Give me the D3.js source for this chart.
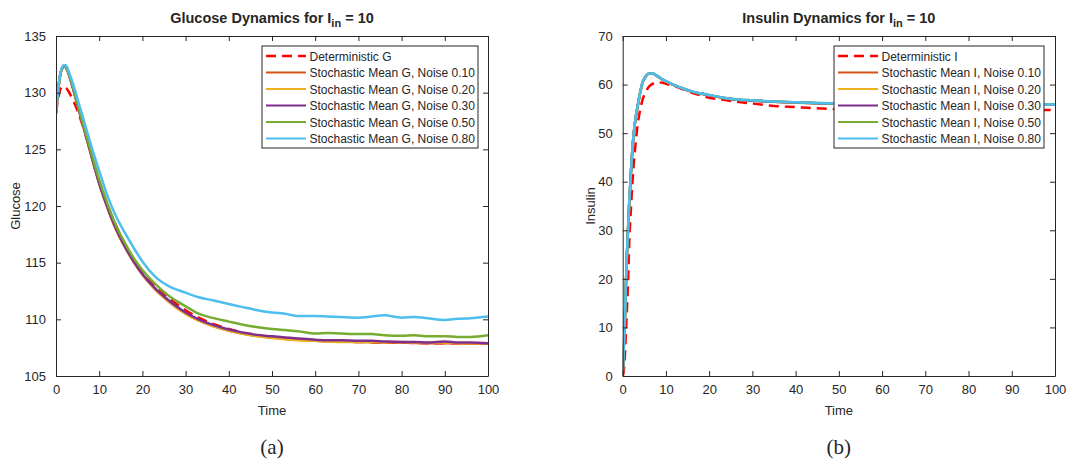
<!DOCTYPE html>
<html>
<head>
<meta charset="utf-8">
<script src="https://cdn.jsdelivr.net/npm/d3@7"></script>
<style>
body { margin: 0; background: #fff; }
svg { display: block; }
text { font-family: "Liberation Sans", Arial, Helvetica, sans-serif; fill: #262626; }
</style>
</head>
<body>
<script>
// glucose time grid + series
var tGlu = [0,0.5,1,1.5,2,2.5,3,4,5,6,7,8,10,12,14,16,18,20,23,26,30,33,36,40,43,46,50,53,56,60,63,66,70,73,76,80,83,86,90,93,96,100];
var gDet = [128.2,129.5,130.3,130.55,130.5,130.35,130.05,129.3,128.4,127.3,126.1,124.8,122.2,120.0,118.2,116.6,115.3,114.2,112.9,111.9,110.8,110.15,109.65,109.15,108.85,108.65,108.45,108.35,108.25,108.15,108.1,108.05,108.0,107.98,107.95,107.93,107.92,107.9,107.9,107.9,107.9,107.9];
var gN10 = [128.2,130.2,131.6,132.2,132.35,132.1,131.6,130.3,128.9,127.5,126.1,124.7,122.0,119.75,117.85,116.35,115.05,113.95,112.65,111.6,110.5,109.9,109.45,109.0,108.75,108.55,108.4,108.3,108.2,108.1,108.05,108.05,108.0,107.98,107.95,107.95,107.92,107.9,107.9,107.88,107.86,107.85];
var gN20 = [128.2,130.2,131.6,132.2,132.35,132.1,131.6,130.3,128.9,127.5,126.1,124.7,122.0,119.75,117.85,116.35,115.05,113.95,112.6,111.6,110.5,109.9,109.45,109.0,108.75,108.55,108.35,108.25,108.15,108.1,108.05,108.0,108.0,108.0,107.98,108.0,107.95,107.95,107.95,107.92,107.9,107.9];
var gN30 = [128.2,130.2,131.6,132.2,132.35,132.1,131.6,130.3,128.9,127.5,126.1,124.7,122.0,119.8,117.9,116.4,115.1,114.0,112.7,111.7,110.6,110.0,109.55,109.1,108.85,108.65,108.5,108.4,108.3,108.2,108.15,108.15,108.1,108.1,108.05,108.0,108.0,107.95,108.05,107.95,107.95,107.9];
var gN50 = [128.2,130.2,131.6,132.25,132.4,132.15,131.65,130.4,129.0,127.6,126.25,124.9,122.3,120.1,118.2,116.7,115.4,114.35,113.1,112.1,111.15,110.5,110.15,109.8,109.55,109.35,109.15,109.05,108.95,108.75,108.8,108.75,108.7,108.7,108.6,108.55,108.6,108.5,108.5,108.45,108.45,108.6];
var gN80 = [128.2,130.3,131.7,132.3,132.45,132.3,131.8,130.7,129.4,128.1,126.8,125.5,123.1,120.8,119.0,117.6,116.3,115.1,113.75,112.95,112.35,111.95,111.7,111.35,111.1,110.85,110.6,110.5,110.3,110.3,110.25,110.2,110.15,110.25,110.35,110.15,110.2,110.1,109.95,110.05,110.1,110.25];

// insulin time grid + series
var tIns = [0,0.25,0.5,0.75,1,1.25,1.5,2,2.5,3,3.5,4,4.5,5,5.5,6,7,8,9,10,12,14,16,18,20,23,26,30,35,40,45,50,60,70,80,90,100];
var iDet = [0,1,4,9,14,19.5,27,36,43,48,52,54.6,56.6,57.9,58.8,59.5,60.2,60.45,60.4,60.15,59.7,59.0,58.3,57.8,57.3,56.9,56.5,56.1,55.6,55.35,55.1,54.95,54.85,54.8,54.78,54.76,54.75];
var iN10 = [0,5.9,11.4,18.9,25.4,30.4,35.4,43.4,49.4,53.2,55.7,58.1,60.1,61.2,61.9,62.25,62.25,61.75,61.15,60.65,59.85,59.15,58.55,58.15,57.8,57.3,56.95,56.7,56.45,56.3,56.15,56.05,55.95,55.9,55.85,55.85,55.85];
var iN20 = [0,5.9,11.4,18.9,25.4,30.4,35.4,43.4,49.4,53.2,55.7,58.1,60.1,61.2,61.9,62.25,62.25,61.75,61.15,60.65,59.85,59.15,58.55,58.15,57.8,57.3,56.95,56.7,56.45,56.3,56.15,56.05,55.95,55.9,55.85,55.85,55.85];
var iN30 = [0,5.95,11.45,18.95,25.45,30.45,35.45,43.45,49.45,53.25,55.75,58.15,60.15,61.25,61.9,62.25,62.25,61.75,61.15,60.65,59.85,59.15,58.55,58.15,57.8,57.3,56.95,56.7,56.45,56.3,56.15,56.05,55.95,55.9,55.9,55.85,55.85];
var iN50 = [0,6,11.5,19,25.5,30.5,35.5,43.5,49.5,53.3,55.8,58.2,60.2,61.3,61.95,62.3,62.3,61.8,61.2,60.7,59.9,59.2,58.6,58.2,57.85,57.35,57.0,56.75,56.5,56.35,56.2,56.1,56.0,55.95,55.9,55.9,55.9];
var iN80 = [0,6,11.5,19,25.5,30.5,35.5,43.5,49.5,53.3,55.8,58.2,60.2,61.3,61.95,62.3,62.3,61.8,61.2,60.7,59.9,59.2,58.6,58.2,57.85,57.35,57.0,56.75,56.5,56.35,56.2,56.1,56.0,55.95,55.9,55.9,55.9];

var noiseLevels = ["0.10", "0.20", "0.30", "0.50", "0.80"];
var lineColors = ["#D95319", "#EDB120", "#7E2F8E", "#77AC30", "#4DBEEE"];
var xTicks = [0,10,20,30,40,50,60,70,80,90,100];
var yTicksG = [105,110,115,120,125,130,135];
var yTicksI = [0,10,20,30,40,50,60,70];

var width = 1068;
var height = 471;
var svg = d3.select("body")
    .append("svg")
    .attr("width", width)
    .attr("height", height);

function drawPanel(p) {
    var x = d3.scaleLinear().domain([0, 100]).range([p.left, p.right]);
    var y = d3.scaleLinear().domain(p.yDomain).range([p.bottom, p.top]);
    var g = svg.append("g");

    g.append("clipPath").attr("id", p.id + "clip")
        .append("rect")
        .attr("x", p.left).attr("y", p.top)
        .attr("width", p.right - p.left).attr("height", p.bottom - p.top);

    var plot = g.append("g").attr("clip-path", "url(#" + p.id + "clip)");
    var line = d3.line()
        .x(function(d) { return x(d[0]); })
        .y(function(d) { return y(d[1]); })
        .curve(p.curve);

    // deterministic first, stochastic means on top
    plot.append("path")
        .attr("d", line(p.time.map(function(t, i) { return [t, p.det[i]]; })))
        .attr("fill", "none")
        .attr("stroke", "#FF0000")
        .attr("stroke-width", 2.5)
        .attr("stroke-dasharray", "10,6");
    p.stoch.forEach(function(s, k) {
        plot.append("path")
            .attr("d", line(p.time.map(function(t, i) { return [t, s[i]]; })))
            .attr("fill", "none")
            .attr("stroke", lineColors[k])
            .attr("stroke-width", 2.5)
            .attr("stroke-linejoin", "round");
    });

    // axes, MATLAB box style with inward ticks
    var tl = 5;
    g.append("g").attr("transform", "translate(0," + p.bottom + ")")
        .call(d3.axisBottom(x).tickValues(xTicks).tickSizeInner(-tl).tickSizeOuter(0).tickPadding(9));
    g.append("g").attr("transform", "translate(0," + p.top + ")")
        .call(d3.axisTop(x).tickValues(xTicks).tickSizeInner(-tl).tickSizeOuter(0).tickFormat(""));
    g.append("g").attr("transform", "translate(" + p.left + ",0)")
        .call(d3.axisLeft(y).tickValues(p.yTicks).tickSizeInner(-tl).tickSizeOuter(0).tickPadding(10));
    g.append("g").attr("transform", "translate(" + p.right + ",0)")
        .call(d3.axisRight(y).tickValues(p.yTicks).tickSizeInner(-tl).tickSizeOuter(0).tickFormat(""));
    g.selectAll(".domain").attr("stroke", "#262626");
    g.selectAll(".tick line").attr("stroke", "#262626");
    g.selectAll(".tick text").attr("font-size", 13).attr("fill", "#262626")
        .attr("font-family", "Liberation Sans, Arial, sans-serif");

    // title with subscript
    var title = g.append("text")
        .attr("x", (p.left + p.right) / 2)
        .attr("y", 23)
        .attr("text-anchor", "middle")
        .attr("font-size", 14.5)
        .attr("font-weight", "bold")
        .attr("fill", "#000");
    title.append("tspan").text(p.title);
    title.append("tspan").attr("dy", 4).attr("font-size", 11).text("in");
    title.append("tspan").attr("dy", -4).text(" = 10");

    g.append("text")
        .attr("x", (p.left + p.right) / 2)
        .attr("y", 415)
        .attr("text-anchor", "middle")
        .attr("font-size", 13)
        .text("Time");
    g.append("text")
        .attr("transform", "translate(" + p.ylabX + "," + ((p.top + p.bottom) / 2) + ") rotate(-90)")
        .attr("text-anchor", "middle")
        .attr("font-size", 13)
        .text(p.ylabel);

    g.append("text")
        .attr("x", (p.left + p.right) / 2)
        .attr("y", 454)
        .attr("text-anchor", "middle")
        .attr("font-size", 21)
        .style("font-family", "Liberation Serif, DejaVu Serif, serif")
        .attr("fill", "#000")
        .text(p.tag);

    // legend
    var lg = g.append("g");
    lg.append("rect")
        .attr("x", p.legX).attr("y", 46)
        .attr("width", p.legW).attr("height", 102)
        .attr("fill", "#fff")
        .attr("stroke", "#262626")
        .attr("stroke-width", 1);
    var labels = ["Deterministic " + p.v].concat(noiseLevels.map(function(n) {
        return "Stochastic Mean " + p.v + ", Noise " + n;
    }));
    labels.forEach(function(lab, i) {
        var yy = 56 + i * 16.5;
        lg.append("line")
            .attr("x1", p.legX + 4).attr("x2", p.legX + 44)
            .attr("y1", yy).attr("y2", yy)
            .attr("stroke", i === 0 ? "#FF0000" : lineColors[i - 1])
            .attr("stroke-width", i === 0 ? 2.5 : 2)
            .attr("stroke-dasharray", i === 0 ? "10,6" : null);
        lg.append("text")
            .attr("x", p.legX + 47.5)
            .attr("y", yy + 4.5)
            .attr("font-size", 12)
            .attr("fill", "#000")
            .text(lab);
    });
}

drawPanel({
    id: "glu", left: 56, right: 488, top: 36, bottom: 376,
    yDomain: [105, 135], yTicks: yTicksG,
    time: tGlu, det: gDet, stoch: [gN10, gN20, gN30, gN50, gN80],
    curve: d3.curveMonotoneX,
    title: "Glucose Dynamics for I", ylabel: "Glucose", ylabX: 20, v: "G", tag: "(a)",
    legX: 262, legW: 216
});
drawPanel({
    id: "ins", left: 622.7, right: 1055, top: 36, bottom: 376,
    yDomain: [0, 70], yTicks: yTicksI,
    time: tIns, det: iDet, stoch: [iN10, iN20, iN30, iN50, iN80],
    curve: d3.curveMonotoneX,
    title: "Insulin Dynamics for I", ylabel: "Insulin", ylabX: 595, v: "I", tag: "(b)",
    legX: 834, legW: 210
});
</script>
</body>
</html>
